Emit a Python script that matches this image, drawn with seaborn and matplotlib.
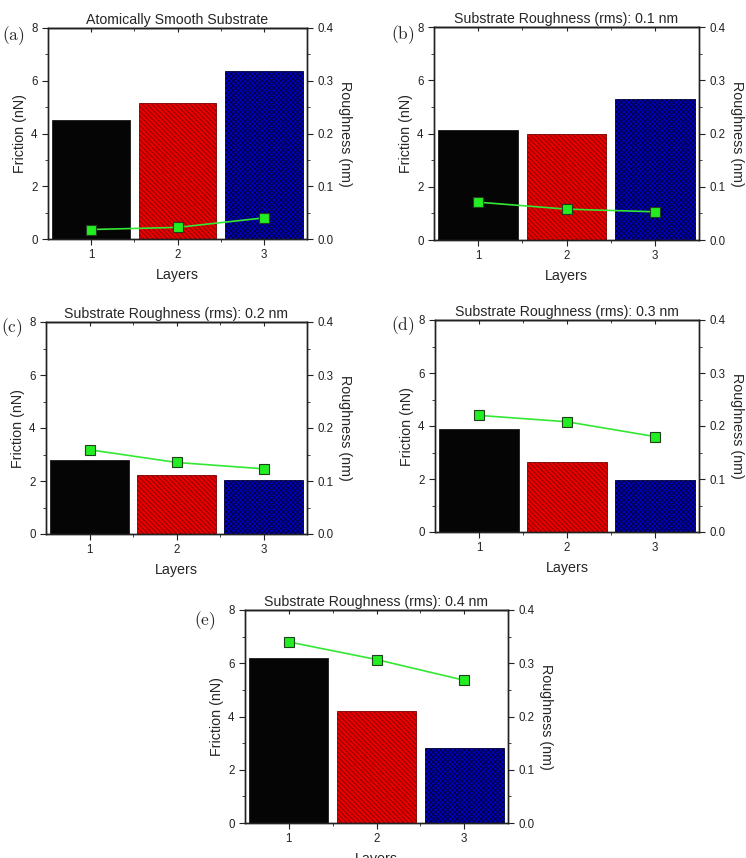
import numpy as np
import matplotlib
matplotlib.use('Agg')
import matplotlib.pyplot as plt
import seaborn as sns
from matplotlib.ticker import MultipleLocator, FixedLocator

# Datos
layers = [1, 2, 3]
titles = ["Atomically Smooth Substrate",
          "Substrate Roughness (rms): 0.1 nm",
          "Substrate Roughness (rms): 0.2 nm",
          "Substrate Roughness (rms): 0.3 nm",
          "Substrate Roughness (rms): 0.4 nm"]
panel_tags = ["(a)", "(b)", "(c)", "(d)", "(e)"]
friction_a = [4.50, 5.15, 6.38]
friction_b = [4.12, 3.98, 5.30]
friction_c = [2.78, 2.22, 2.03]
friction_d = [3.87, 2.65, 1.95]
friction_e = [6.18, 4.20, 2.80]
rough_a = [0.018, 0.022, 0.040]
rough_b = [0.071, 0.058, 0.053]
rough_c = [0.159, 0.135, 0.123]
rough_d = [0.220, 0.208, 0.180]
rough_e = [0.340, 0.307, 0.268]

bar_colors = ['#050505', '#e80000', '#0000c0']
bar_edges = ['#1a1a1a', '#7a0000', '#00003a']
bar_hatches = [None, '\\' * 7, 'x' * 7]

sns.set_style('ticks')
plt.rcParams.update({
    'font.family': ['Liberation Sans', 'DejaVu Sans'],
    'mathtext.fontset': 'cm',
    'hatch.linewidth': 0.6,
    'axes.linewidth': 1.0,
    'xtick.color': '#222222',
    'ytick.color': '#222222',
    'axes.edgecolor': '#222222',
})

W, H = 746, 858
fig = plt.figure(figsize=(W / 100, H / 100), dpi=100)

# (left, right, top, bottom) en pixeles
boxes = [(48, 307, 28, 239), (434, 699, 27, 240), (46, 307, 322, 534),
         (435, 699, 320, 532), (245, 508, 610, 823)]
tag_pos = [(13, 36), (403, 35), (12, 328), (403, 326), (205, 621)]
friction = [friction_a, friction_b, friction_c, friction_d, friction_e]
rough = [rough_a, rough_b, rough_c, rough_d, rough_e]


def draw_panel(box, title, tag, tpos, fr, ro):
    l, r, t, b = box
    ax = fig.add_axes([l / W, 1 - b / H, (r - l) / W, (b - t) / H])
    sns.barplot(x=layers, y=fr, native_scale=True, width=0.9, color='k',
                errorbar=None, ax=ax)
    for patch, c, e, h in zip(ax.patches, bar_colors, bar_edges, bar_hatches):
        patch.set_facecolor(c)
        patch.set_edgecolor(e)
        patch.set_linewidth(0.6)
        if h:
            patch.set_hatch(h)
    ax.set_xlim(0.5, 3.5)
    ax.set_ylim(0, 8)
    ax.set_xticks(layers)
    ax.xaxis.set_minor_locator(FixedLocator([1.5, 2.5]))
    ax.set_yticks([0, 2, 4, 6, 8])
    ax.yaxis.set_minor_locator(MultipleLocator(1))
    ax.tick_params(which='major', length=4, labelsize=8.3)
    ax.tick_params(which='minor', length=2)
    ax.set_xlabel("Layers", fontsize=10.3, labelpad=5)
    ax.set_ylabel("Friction (nN)", fontsize=10.3, labelpad=3)
    ax.set_title(title, fontsize=10.2, pad=3)

    top = ax.secondary_xaxis('top')
    top.set_xticks(layers)
    top.xaxis.set_minor_locator(FixedLocator([1.5, 2.5]))
    top.tick_params(which='major', direction='in', length=3, labeltop=False)
    top.tick_params(which='minor', direction='in', length=2)

    ax2 = ax.twinx()
    sns.lineplot(x=layers, y=ro, ax=ax2, color='#33e833', lw=1.2,
                 marker='s', markersize=6.5, markerfacecolor='#22ee22',
                 markeredgecolor='#1f3f1f', markeredgewidth=0.8)
    ax2.set_ylim(0, 0.4)
    ax2.set_yticks([0.0, 0.1, 0.2, 0.3, 0.4])
    ax2.set_yticklabels(['0.0', '0.1', '0.2', '0.3', '0.4'])
    ax2.yaxis.set_minor_locator(MultipleLocator(0.05))
    ax2.tick_params(which='major', length=4, labelsize=8.3)
    ax2.tick_params(which='minor', length=2)
    ax2.set_ylabel("Roughness (nm)", fontsize=10.3, rotation=270, labelpad=13)

    fig.text(tpos[0] / W, 1 - tpos[1] / H, r'$\mathrm{%s}$' % tag,
             fontsize=12.5, ha='center', va='center')


for i in range(5):
    draw_panel(boxes[i], titles[i], panel_tags[i], tag_pos[i],
               friction[i], rough[i])

fig.savefig('out.png', dpi=100)
